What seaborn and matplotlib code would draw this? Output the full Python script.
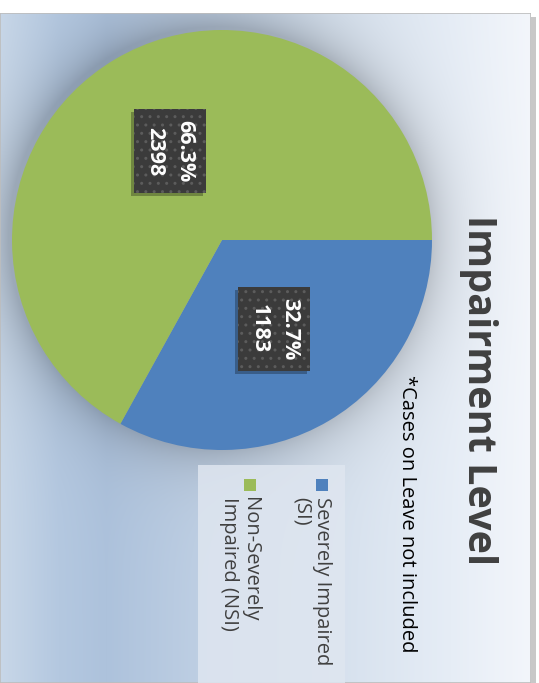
import numpy as np
import seaborn as sns
import matplotlib.pyplot as plt
import matplotlib.transforms as mtransforms
from matplotlib.patches import Rectangle

# data
categories = ["Severely Impaired\n(SI)", "Non-Severely\nImpaired (NSI)"]
counts = [1183, 2398]
pct_labels = ["32.7%", "66.3%"]
title = "Impairment Level"
subtitle = "*Cases on Leave not included"

sns.set_style("white")
plt.rcParams['font.family'] = ['Open Sans', 'DejaVu Sans']

W, H = 539, 683
fig = plt.figure(figsize=(W / 100, H / 100), dpi=100)
fig.patch.set_facecolor('white')

def fx(px):
    return px / W

def fy(py):
    return 1 - py / H

# background frame with gradient + soft shadow around the pie
fr_right, fr_top = 531, 13
fw, fh = fr_right, H - fr_top
xs = np.linspace(0, 1, fw)
stops = [0.0, 0.11, 0.2, 0.62, 0.85, 1.0]
cols = np.array([[200, 215, 232], [180, 200, 224], [173, 194, 220],
                 [213, 224, 237], [230, 237, 246], [243, 246, 251]]) / 255
grad = np.stack([np.interp(xs, stops, cols[:, i]) for i in range(3)], axis=-1)
img = np.repeat(grad[None, :, :], fh, axis=0)
yy, xx = np.mgrid[0:fh, 0:fw]
d = np.hypot(xx - 218, yy - (236 - fr_top))
dark = 0.2 * np.exp(-np.clip(d - 210, 0, None) / 25)
img = img * (1 - dark[..., None])

# frame shadow on the right
fig.patches.append(Rectangle((fx(fr_right), 0), fx(5), fy(fr_top + 4), transform=fig.transFigure,
                             fc='#c8c8c8', ec='none', zorder=0))
bg = fig.add_axes([0, 0, fx(fw), fh / H])
bg.imshow(img, aspect='auto', extent=[0, 1, 0, 1])
bg.set_axis_off()
bg.add_patch(Rectangle((0, 0), 1, 1, transform=bg.transAxes, fill=False, ec='#bdbdbd', lw=1.2))

# pie (chart is rotated 90 degrees clockwise)
colors = ['#4f81bd', '#9bbb59']
ax = fig.add_axes([fx(12), fy(450), fx(420), 420 / H])
wedges, _ = ax.pie(counts, colors=colors, startangle=0, counterclock=False,
                   wedgeprops=dict(linewidth=0))
ax.set_xlim(-1, 1)
ax.set_ylim(-1, 1)
ax.set_axis_off()

labels = []
for w, c, p in zip(wedges, counts, pct_labels):
    mid = np.deg2rad((w.theta1 + w.theta2) / 2)
    r = 0.49
    t = ax.text(r * np.cos(mid), r * np.sin(mid), f"{p}\n{c}", rotation=270,
                ha='center', va='center', multialignment='center', color='white',
                fontsize=15.5, fontweight='bold', linespacing=1.55, zorder=5,
                bbox=dict(boxstyle='square,pad=0.5', fc='#3b3b3b', ec='#5c5c5c',
                          lw=0, hatch='..'))
    labels.append(t)

# drop shadow behind each label box (above the wedges, below the box)
fig.canvas.draw()
for t in labels:
    bb = t.get_bbox_patch().get_window_extent()
    ax.add_patch(Rectangle((bb.x0 - 3, bb.y0 - 3), bb.width, bb.height,
                           transform=mtransforms.IdentityTransform(), fc='black',
                           ec='none', alpha=0.28, zorder=4, clip_on=False))

# title and subtitle
fig.text(fx(478), fy(390), title, rotation=270, ha='center', va='center',
         fontsize=28.5, fontweight='bold', color='#404040')
fig.text(fx(407), fy(514), subtitle, rotation=270, ha='center', va='center',
         fontsize=14.5, color='black')

# legend
fig.patches.append(Rectangle((fx(198), 0), fx(147), fy(465), transform=fig.transFigure,
                             fc='#dfe6f0', ec='none', alpha=0.85, zorder=1))
for col, lab, lx in zip(colors, categories, [322, 250]):
    fig.patches.append(Rectangle((fx(lx - 6), fy(491)), fx(12), 12 / H,
                                 transform=fig.transFigure, fc=col, ec='none', zorder=2))
    fig.text(fx(lx + 10), fy(497), lab, rotation=270, ha='right', va='top',
             multialignment='left', fontsize=14.5, color='#404040', linespacing=1.05)

fig.savefig('out.png', dpi=100)
